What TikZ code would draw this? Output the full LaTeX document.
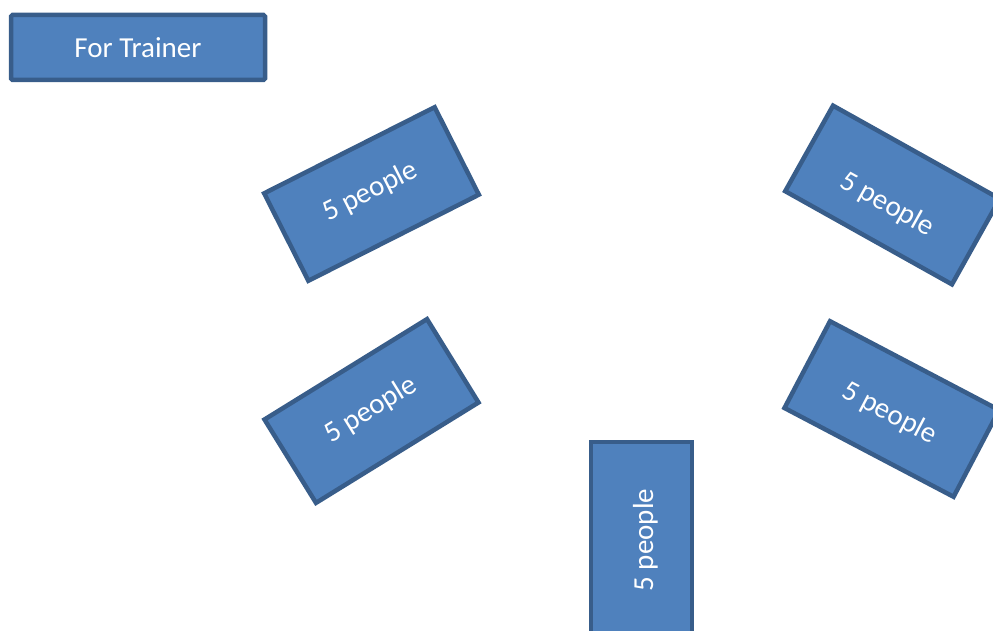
\documentclass[tikz,border=0pt]{standalone}
\usepackage{fontspec}
\setmainfont{Carlito}
\definecolor{boxfill}{HTML}{4F81BD}
\definecolor{boxline}{HTML}{385D8A}
% set a label lowered by #1 inside its box, keeping the box's own size
\newcommand{\lowered}[2]{\raisebox{-#1}[\height][\depth]{#2}}
\begin{document}
\begin{tikzpicture}[x=1pt,y=-1pt,
  tablebox/.style={shape=rectangle, draw=boxline, fill=boxfill, line width=4.5pt,
    text=white, font=\fontsize{29}{35}\selectfont, inner sep=0pt,
    minimum width=191pt, minimum height=98pt},
]
\useasboundingbox (0,0) rectangle (993,631);
% trainer's desk
\node[tablebox, minimum width=254pt, minimum height=65pt, rounded corners=1.5pt] (trainer) at (138,47.5) {For Trainer};
% group tables
\node[tablebox, rotate=26.8] (left top) at (371.5,194) {\lowered{-2.5pt}{5 people}};
\node[tablebox, rotate=31.7] (left bottom) at (371.5,411) {\lowered{-1pt}{5 people}};
\node[tablebox, rotate=-29.2] (right top) at (892.5,195) {\lowered{11pt}{5 people}};
\node[tablebox, rotate=-27.7] (right bottom) at (891.8,409) {\lowered{5pt}{5 people}};
\node[tablebox, rotate=90, minimum width=196pt, minimum height=101pt] (bottom) at (641.5,540) {\lowered{4pt}{5 people}};
\end{tikzpicture}
\end{document}
